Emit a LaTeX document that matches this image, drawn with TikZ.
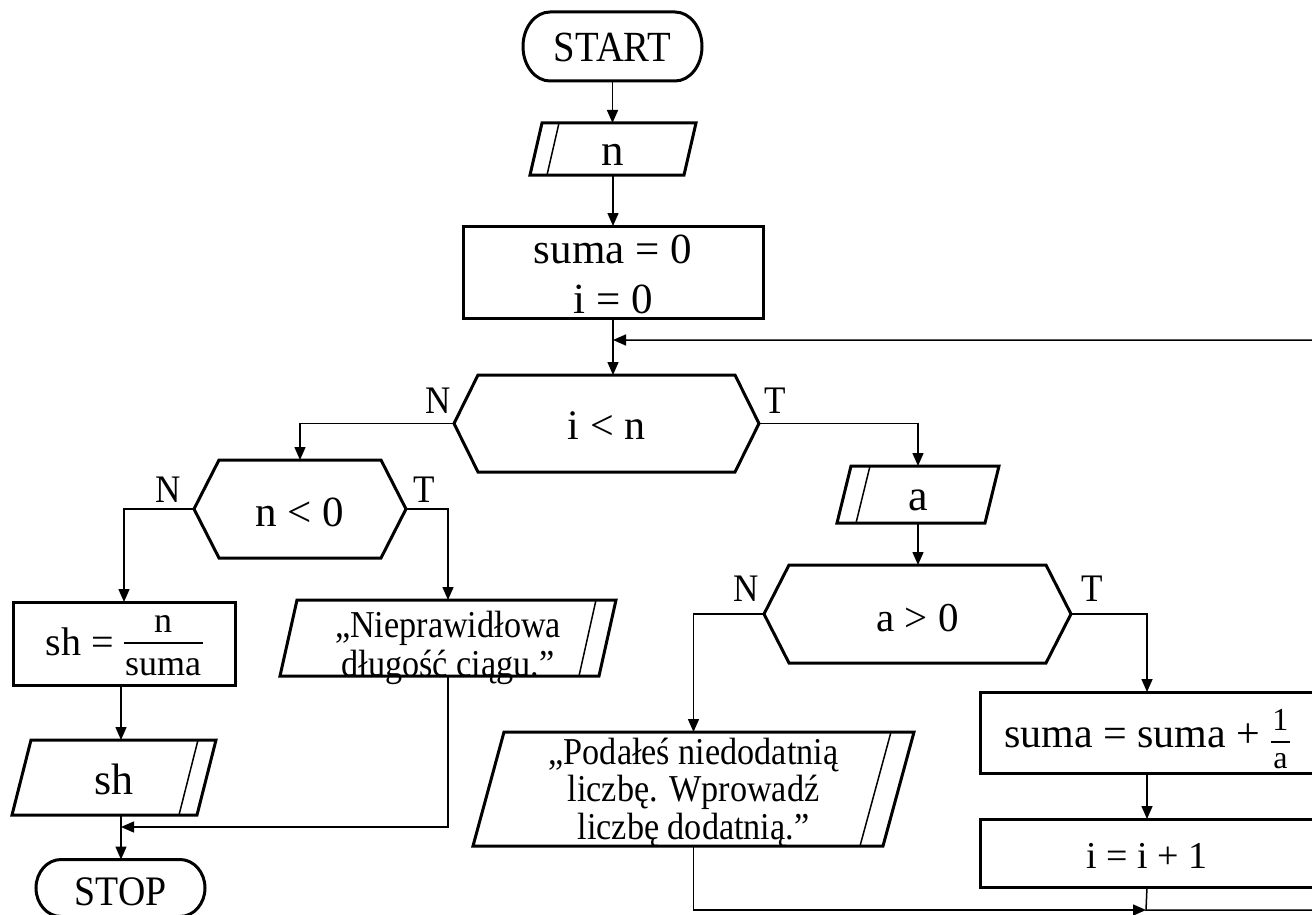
\documentclass[tikz,border=0pt]{standalone}
\usepackage{fontspec}
\setmainfont{Liberation Serif}
\newfontfamily\narrowfont{Liberation Serif}[FakeStretch=0.9]
\usetikzlibrary{arrows.meta}

\newcommand{\fs}[2]{\fontsize{#1}{#2}\selectfont}
% hexagonal decision outline over a slot node; #2 = chamfer width
\newcommand{\hexframe}[2]{\draw[frame] (#1.west) -- ([xshift=#2]#1.north west) -- ([xshift=-#2]#1.north east) -- (#1.east) -- ([xshift=-#2]#1.south east) -- ([xshift=#2]#1.south west) -- cycle;}
% parallelogram leaning right; #2 = slant
\newcommand{\paraframe}[2]{\draw[frame] ([xshift=#2]#1.north west) -- (#1.north east) -- ([xshift=-#2]#1.south east) -- (#1.south west) -- cycle;}
% input: extra stripe near the left side
\newcommand{\inframe}[3]{\paraframe{#1}{#2}\draw[stripe] ([xshift=#2+#3]#1.north west) -- ([xshift=#3]#1.south west);}
% output: extra stripe near the right side
\newcommand{\outframe}[3]{\paraframe{#1}{#2}\draw[stripe] ([xshift=-#3]#1.north east) -- ([xshift=-#2-#3]#1.south east);}
% terminal with elliptic ends; #2 = end depth, #3 = half height
\newcommand{\termframe}[3]{\draw[frame] ([xshift=#2]#1.north west) -- ([xshift=-#2]#1.north east) arc[start angle=90,end angle=-90,x radius=#2,y radius=#3] -- ([xshift=#2]#1.south west) arc[start angle=270,end angle=90,x radius=#2,y radius=#3] -- cycle;}

% stacked fraction: #1 numerator, #2 denominator, #3 numerator baseline above bar,
% #4 denominator baseline below bar, #5 bar height above the text baseline
\newsavebox\fracnum
\newsavebox\fracden
\newlength\fracwd
\newcommand{\stackfrac}[5]{%
  \sbox\fracnum{#1}\sbox\fracden{#2}%
  \setlength\fracwd{\wd\fracnum}%
  \ifdim\wd\fracden>\fracwd\setlength\fracwd{\wd\fracden}\fi
  \addtolength\fracwd{3pt}%
  \raisebox{#5}{\makebox[0pt][l]{\makebox[\fracwd]{\raisebox{#3}{\usebox\fracnum}}}%
    \makebox[0pt][l]{\makebox[\fracwd]{\raisebox{-#4}{\usebox\fracden}}}%
    \rule[-1pt]{\fracwd}{2pt}}}
\newcommand{\lines}[1]{\begin{tabular}[b]{@{}c@{}}#1\end{tabular}}

\tikzset{
  frame/.style={line width=3pt, line join=miter},
  stripe/.style={line width=1.5pt},
  conn/.style={line width=1.5pt},
  arr/.style={conn, -{Triangle[length=13pt,width=11pt]}},
  slot/.style={shape=rectangle, inner sep=0pt, outer sep=0pt},
  base/.style={text height=#1, text depth=0pt},
  lbl/.style={inner sep=0pt, font=\narrowfont\fs{39}{45}, text height=26pt, text depth=0pt},
}

\begin{document}
\begin{tikzpicture}[x=1pt,y=-1pt]
\useasboundingbox (0,0) rectangle (1312,915);
\fill[white] (0,0) rectangle (1312,915);
\clip (0,0) rectangle (1312,915);

% ---------- blocks ----------
\node[slot, base=31pt, minimum width=179pt, minimum height=69pt, font=\narrowfont\fs{43}{48}] (start) at (612.5,46.5) {START};
\node[slot, base=32pt, minimum width=166pt, minimum height=52pt, font=\fs{45}{52}] (nin) at (613,149) {n};
\node[slot, base=82pt, minimum width=300pt, minimum height=92pt, font=\fs{43}{50}] (init) at (613,272) {\lines{suma = 0\\i = 0}};
\node[slot, base=31pt, minimum width=305pt, minimum height=97pt, font=\fs{42}{48}] (cond1) at (606.5,423.5) {i < n};

\node[slot, base=34pt, minimum width=212pt, minimum height=98pt, font=\fs{43}{50}] (cond2) at (300,509) {n < 0};
\node[slot, base=23pt, minimum width=222pt, minimum height=83pt, font=\fs{40}{46}] (calc) at (124,643.5)
  {sh = \stackfrac{\fs{36}{36}n}{\fs{36}{36}suma}{11pt}{32pt}{12pt}};
\node[slot, base=33pt, minimum width=204pt, minimum height=75pt, font=\fs{44}{50}] (shout) at (114,777.5) {sh};
\node[slot, base=34pt, minimum width=169pt, minimum height=57pt, font=\narrowfont\fs{42}{48}] (stop) at (120.5,888) {STOP};
\node[slot, base=76pt, minimum width=336pt, minimum height=74pt, font=\narrowfont\fs{38}{39}] (err1) at (448,638) {\lines{„Nieprawidłowa\\długość ciągu.”}};

\node[slot, base=31pt, minimum width=162pt, minimum height=57pt, font=\fs{44}{50}] (ain) at (918,494.5) {a};
\node[slot, base=34pt, minimum width=307pt, minimum height=98pt, font=\fs{41}{47}] (cond3) at (917.5,614) {a > 0};
\node[slot, base=100pt, minimum width=441pt, minimum height=114pt, font=\narrowfont\fs{38}{35.5}] (err2) at (693.5,789) {\lines{„Podałeś niedodatnią\\liczbę. Wprowadź\\liczbę dodatnią.”}};
\node[slot, base=29pt, minimum width=334pt, minimum height=81pt, font=\fs{42}{48}] (upd1) at (1147,732.5)
  {suma = suma + \stackfrac{\fs{32}{32}1}{\fs{32}{32}a}{12pt}{26pt}{5pt}};
\node[slot, base=30pt, minimum width=334pt, minimum height=68pt, font=\fs{38}{44}] (upd2) at (1147,853) {i = i + 1};

% ---------- outlines ----------
\termframe{start}{27pt}{34.5pt}
\inframe{nin}{12pt}{17pt}
\draw[frame] (init.north west) rectangle (init.south east);
\hexframe{cond1}{24pt}
\hexframe{cond2}{25pt}
\draw[frame] (calc.north west) rectangle (calc.south east);
\outframe{shout}{19pt}{18pt}
\termframe{stop}{25pt}{28.5pt}
\outframe{err1}{17pt}{20pt}
\inframe{ain}{14pt}{19pt}
\hexframe{cond3}{25pt}
\outframe{err2}{31pt}{23pt}
\draw[frame] (upd1.north west) rectangle (upd1.south east);
\draw[frame] (upd2.north west) rectangle (upd2.south east);

% ---------- branch labels ----------
\node[lbl] (n1) at (438,400) {N};
\node[lbl] (t1) at (775,400) {T};
\node[lbl] (n2) at (168,489) {N};
\node[lbl] (t2) at (424,489) {T};
\node[lbl] (n3) at (746,588) {N};
\node[lbl] (t3) at (1092,588) {T};

% ---------- junction points ----------
\coordinate (trunk) at (121,0);
\coordinate (loopR) at (1336,340);
\coordinate (merge1) at (init.south |- loopR);
\coordinate (merge2) at (121,827);
\coordinate (merge3) at (1146,910);

% ---------- connectors ----------
\draw[arr] (start.south) -- (start.south |- nin.north);
\draw[arr] (nin.south) -- (nin.south |- init.north);
\draw[arr] (init.south) -- (init.south |- cond1.north);
\draw[arr] (cond1.west) -| (cond2.north);
\draw[arr] (cond1.east) -| (ain.north);

\draw[arr] (cond2.west) -| (calc.north);
\draw[arr] (cond2.east) -| (err1.north);
\draw[arr] (calc.south -| trunk) -- (shout.north -| trunk);
\draw[arr] (shout.south -| trunk) -- (stop.north -| trunk);
\draw[arr] (err1.south) |- (merge2);

\draw[arr] (ain.south) -- (ain.south |- cond3.north);
\draw[arr] (cond3.west) -| (err2.north);
\draw[arr] (cond3.east) -| (upd1.north);
\draw[arr] (upd1.south) -- (upd1.south |- upd2.north);
\draw[arr] (err2.south) |- (merge3);
\draw[arr] (upd2.south) -- (merge3) -| (loopR) -- (merge1);
\end{tikzpicture}
\end{document}
